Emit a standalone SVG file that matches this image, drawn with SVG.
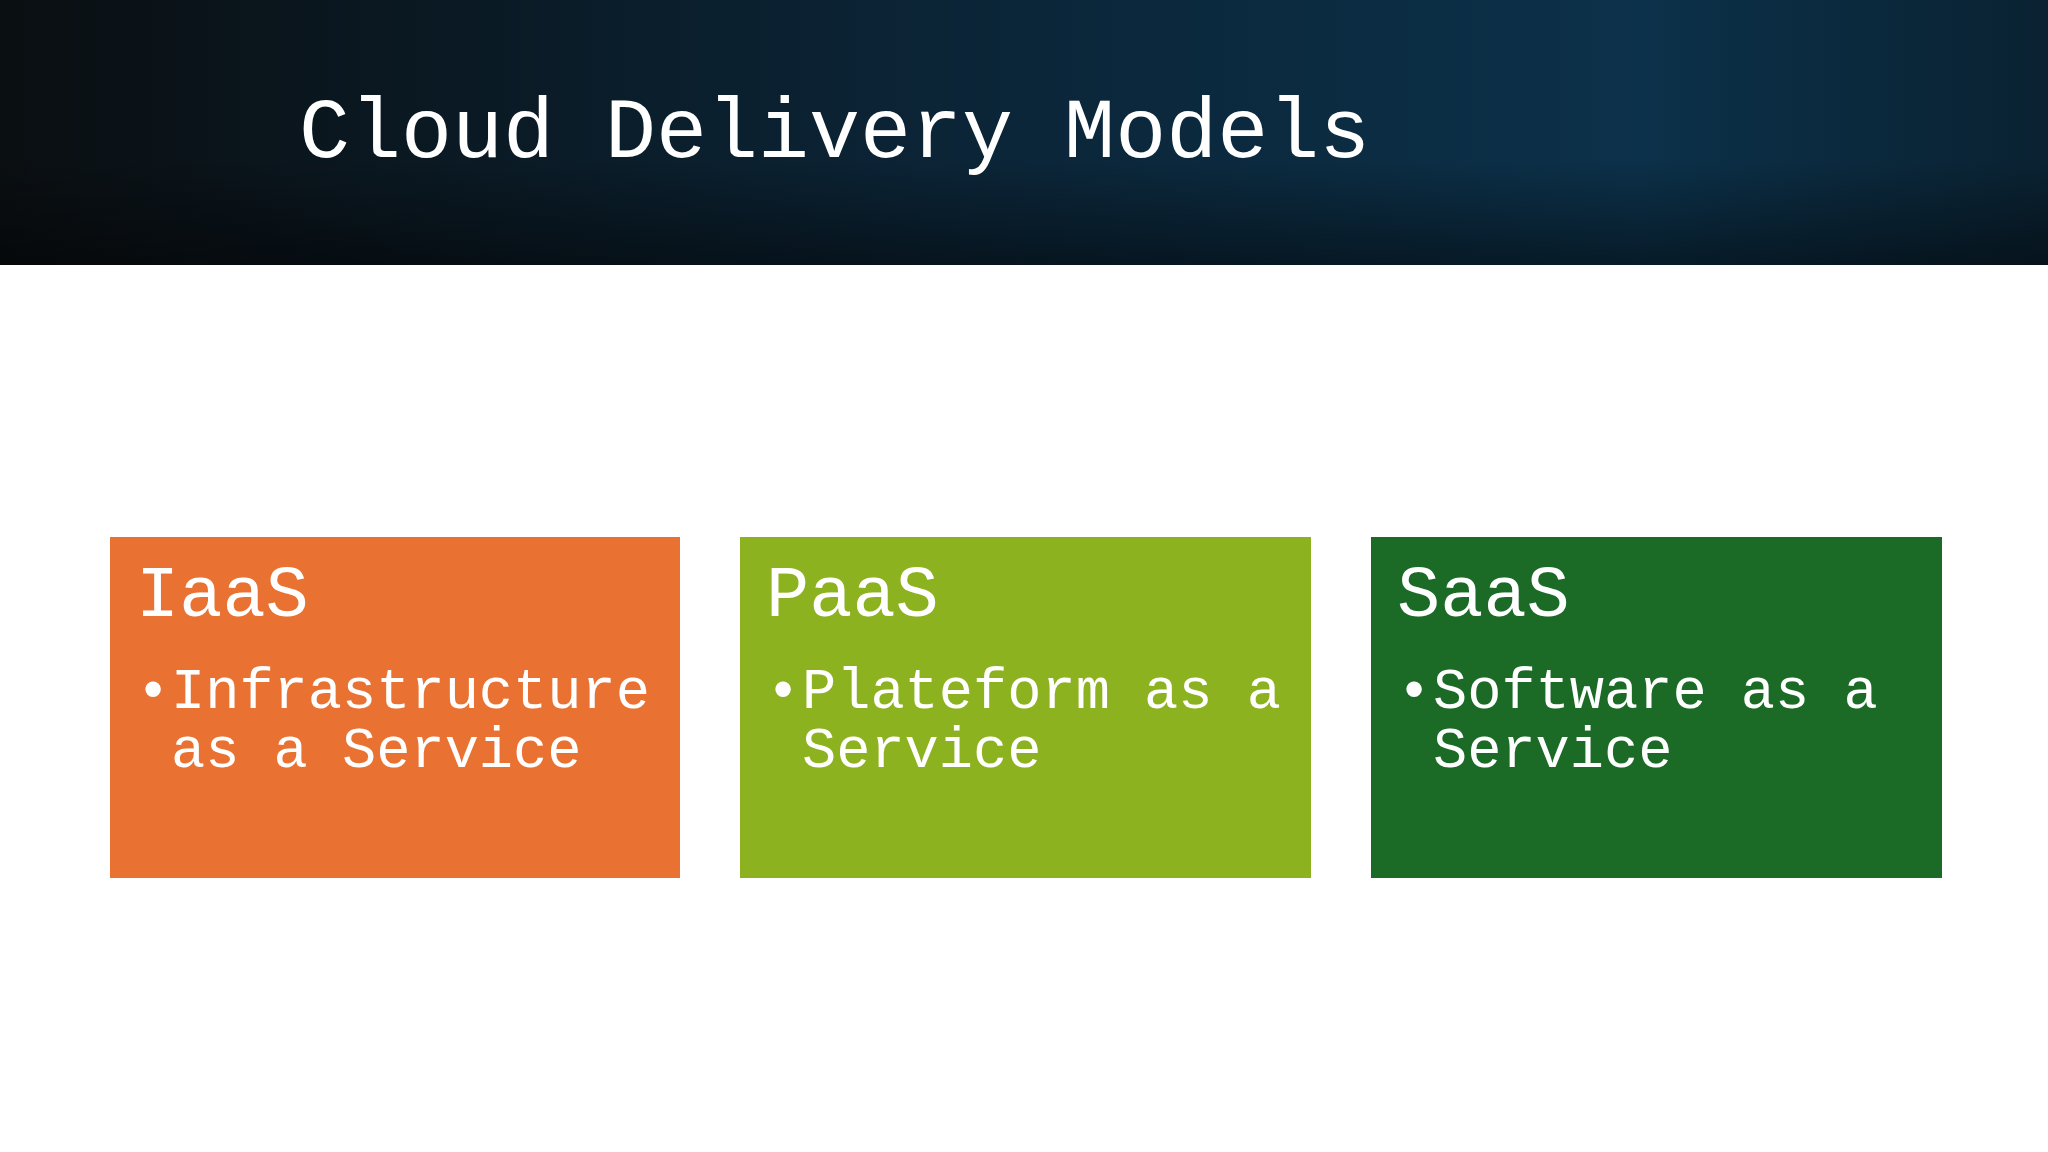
<svg xmlns="http://www.w3.org/2000/svg" width="2048" height="1152" viewBox="0 0 2048 1152">
<defs>
<linearGradient id="hg" x1="0" y1="0" x2="1" y2="0">
<stop offset="0" stop-color="#0a0f12"/><stop offset="0.45" stop-color="#0b2436"/><stop offset="0.8" stop-color="#0c314a"/><stop offset="1" stop-color="#0a2232"/>
</linearGradient>
<linearGradient id="hv" x1="0" y1="0" x2="0" y2="1">
<stop offset="0.6" stop-color="#000" stop-opacity="0"/><stop offset="1" stop-color="#000" stop-opacity="0.45"/>
</linearGradient>
<style>
.t{font-family:"Liberation Mono","Courier New",monospace;fill:#fff}
.h{font-size:72px}.b{font-size:57px}
</style>
</defs>
<rect width="2048" height="1152" fill="#fff"/>
<rect width="2048" height="265" fill="url(#hg)"/>
<rect width="2048" height="265" fill="url(#hv)"/>
<text class="t" x="299" y="157" font-size="85">Cloud Delivery Models</text>
<g id="iaas"><rect x="110" y="537" width="570" height="341" fill="#E97132"/>
<text class="t h" x="136" y="616">IaaS</text>
<text class="t b" x="136" y="708">•</text><text class="t b" x="171" y="708">Infrastructure</text><text class="t b" x="171" y="767">as a Service</text></g>
<g id="paas"><rect x="740" y="537" width="571" height="341" fill="#8DB21F"/>
<text class="t h" x="766" y="616">PaaS</text>
<text class="t b" x="766" y="708">•</text><text class="t b" x="802" y="708">Plateform as a</text><text class="t b" x="802" y="767">Service</text></g>
<g id="saas"><rect x="1371" y="537" width="571" height="341" fill="#1B6B27"/>
<text class="t h" x="1397" y="616">SaaS</text>
<text class="t b" x="1397" y="708">•</text><text class="t b" x="1433" y="708">Software as a</text><text class="t b" x="1433" y="767">Service</text></g>
<g id="connectors"/>
</svg>
